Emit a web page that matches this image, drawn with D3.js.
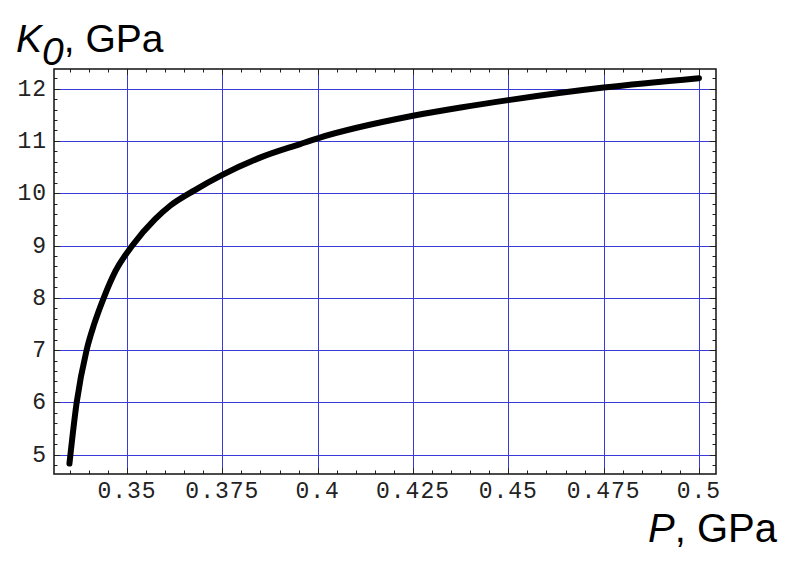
<!DOCTYPE html>
<html>
<head>
<meta charset="utf-8">
<script src="https://cdn.jsdelivr.net/npm/d3@7"></script>
<style>
  body { margin: 0; background: #fff; }
  .tick-label { font-family: "Liberation Mono", "Courier New", monospace; font-size: 23px; letter-spacing: 1px; fill: #222; }
  .title { font-family: "Liberation Sans", Arial, sans-serif; fill: #000; }
</style>
</head>
<body>
<svg width="796" height="563"></svg>
<script>
// curve: pressure P (GPa) vs bulk modulus K0 (GPa)
var pressure = [0.3349, 0.3368, 0.3394, 0.3414, 0.3439, 0.3469, 0.3514, 0.3573, 0.3613, 0.3678,
                0.375, 0.3849, 0.3954, 0.4, 0.425, 0.4375, 0.45, 0.475, 0.5];
var modulus  = [4.83, 6.0, 7.0, 7.5, 8.0, 8.5, 9.0, 9.5, 9.76, 10.06,
                10.35, 10.68, 10.94, 11.05, 11.48, 11.64, 11.78, 12.02, 12.20];

var xTicks = [0.35, 0.375, 0.4, 0.425, 0.45, 0.475, 0.5];
var xTickLabels = ["0.35", "0.375", "0.4", "0.425", "0.45", "0.475", "0.5"];
var yTicks = [5, 6, 7, 8, 9, 10, 11, 12];

var svg = d3.select("svg"),
    x0 = 54, x1 = 716, y0 = 69, y1 = 474;

var x = d3.scaleLinear().domain([0.33085, 0.50447]).range([x0, x1]);
var y = d3.scaleLinear().domain([4.631, 12.375]).range([y1, y0]);

function crisp(v) { return Math.round(v) + 0.5; }

// grid
svg.append("g").selectAll("line")
    .data(xTicks)
  .enter().append("line")
    .attr("x1", function(d) { return crisp(x(d)); })
    .attr("x2", function(d) { return crisp(x(d)); })
    .attr("y1", y0).attr("y2", y1)
    .attr("stroke", "#3a3ad8").attr("stroke-width", 1);

svg.append("g").selectAll("line")
    .data(yTicks)
  .enter().append("line")
    .attr("y1", function(d) { return crisp(y(d)); })
    .attr("y2", function(d) { return crisp(y(d)); })
    .attr("x1", x0).attr("x2", x1)
    .attr("stroke", "#3a3ad8").attr("stroke-width", 1);

// inward ticks on all four sides
var xMinor = d3.range(0.335, 0.5041, 0.005),
    yMinor = d3.range(4.8, 12.37, 0.2);

function isMajor(v, step) { return Math.abs(v / step - Math.round(v / step)) < 1e-6; }

var ticks = svg.append("g").attr("stroke", "#222").attr("stroke-width", 1);
xMinor.forEach(function(v) {
  var len = isMajor(v, 0.025) ? 6 : 3.5, px = crisp(x(v));
  ticks.append("line").attr("x1", px).attr("x2", px).attr("y1", y1).attr("y2", y1 - len);
  ticks.append("line").attr("x1", px).attr("x2", px).attr("y1", y0).attr("y2", y0 + len);
});
yMinor.forEach(function(v) {
  var len = isMajor(v, 1) ? 6 : 3.5, py = crisp(y(v));
  ticks.append("line").attr("y1", py).attr("y2", py).attr("x1", x0).attr("x2", x0 + len);
  ticks.append("line").attr("y1", py).attr("y2", py).attr("x1", x1).attr("x2", x1 - len);
});

// frame
svg.append("rect")
    .attr("x", x0).attr("y", y0)
    .attr("width", x1 - x0).attr("height", y1 - y0)
    .attr("fill", "none").attr("stroke", "#111").attr("stroke-width", 1.5);

// tick labels
svg.append("g").selectAll("text")
    .data(xTicks)
  .enter().append("text")
    .attr("class", "tick-label")
    .attr("x", function(d) { return x(d); })
    .attr("y", 498)
    .attr("text-anchor", "middle")
    .text(function(d, i) { return xTickLabels[i]; });

svg.append("g").selectAll("text")
    .data(yTicks)
  .enter().append("text")
    .attr("class", "tick-label")
    .attr("x", 47)
    .attr("y", function(d) { return y(d) + 7; })
    .attr("text-anchor", "end")
    .text(function(d) { return d; });

// curve
var line = d3.line()
    .x(function(d) { return x(d[0]); })
    .y(function(d) { return y(d[1]); })
    .curve(d3.curveMonotoneX);

svg.append("path")
    .datum(d3.zip(pressure, modulus))
    .attr("d", line)
    .attr("fill", "none")
    .attr("stroke", "#000")
    .attr("stroke-width", 6)
    .attr("stroke-linecap", "round")
    .attr("stroke-linejoin", "round");

// axis titles
var yTitle = svg.append("text").attr("class", "title")
    .attr("x", 16).attr("y", 52).style("font-size", "39px");
yTitle.append("tspan").style("font-style", "italic").text("K");
yTitle.append("tspan").style("font-style", "italic").attr("dy", 13).text("0");
yTitle.append("tspan").attr("dy", -13).text(", GPa");

var xTitle = svg.append("text").attr("class", "title")
    .attr("x", 777).attr("y", 542).attr("text-anchor", "end").style("font-size", "40px");
xTitle.append("tspan").style("font-style", "italic").text("P");
xTitle.append("tspan").text(", GPa");
</script>
</body>
</html>
